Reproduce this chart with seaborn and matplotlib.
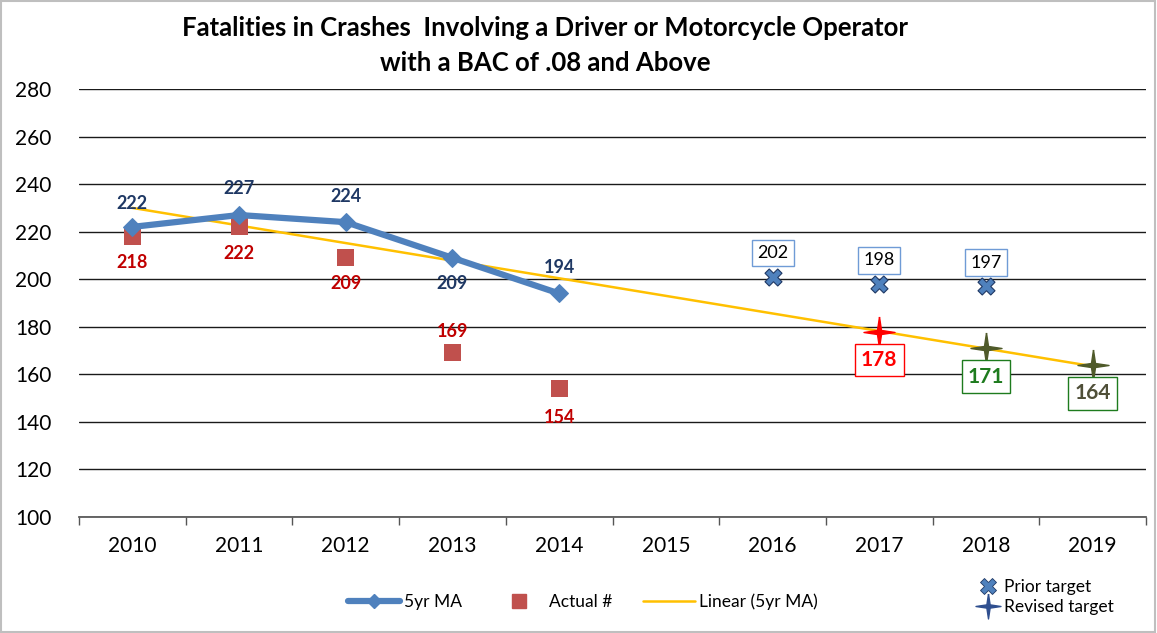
import numpy as np
import pandas as pd
import matplotlib
matplotlib.use("Agg")
import matplotlib.pyplot as plt
import seaborn as sns
from matplotlib.lines import Line2D
from matplotlib.patches import Rectangle

years = [2010, 2011, 2012, 2013, 2014, 2015, 2016, 2017, 2018, 2019]
ma_years = [2010, 2011, 2012, 2013, 2014]
ma_values = [222, 227, 224, 209, 194]
actual_values = [218, 222, 209, 169, 154]
prior_years = [2016, 2017, 2018]
prior_values = [201, 198, 197]
prior_labels = ["202", "198", "197"]
revised_years = [2017, 2018, 2019]
revised_values = [178, 171, 164]
yticks = [100, 120, 140, 160, 180, 200, 220, 240, 260, 280]

sns.set_theme(style="white")
plt.rcParams['font.family'] = ['Lato', 'DejaVu Sans']
plt.rcParams['text.color'] = 'black'
plt.rcParams['xtick.color'] = 'black'
plt.rcParams['ytick.color'] = 'black'

fig = plt.figure(figsize=(11.57, 6.33), dpi=100)
ax = fig.add_axes([79/1157, 1-517/633, (1146-79)/1157, (517-89)/633])

pos = {y: i for i, y in enumerate(years)}
df_ma = pd.DataFrame({"x": [pos[y] for y in ma_years], "y": ma_values})
df_act = pd.DataFrame({"x": [pos[y] for y in ma_years], "y": actual_values})

# grid
for t in yticks:
    ax.axhline(t, color="#1a1a1a", lw=1.0, zorder=0)

# trend
xs = np.array(df_ma["x"], dtype=float)
coef = np.polyfit(xs, np.array(ma_values, dtype=float), 1)
tx = np.array([0, 9])
ax.plot(tx, np.polyval(coef, tx), color="#FFC000", lw=1.8, zorder=2)

blue = "#4F81BD"
sns.lineplot(data=df_ma, x="x", y="y", ax=ax, color=blue, lw=4.5, marker="D",
             markersize=9, markeredgecolor=blue, zorder=4, legend=False)
sns.scatterplot(data=df_act, x="x", y="y", ax=ax, color="#C0504D", marker="s",
                s=150, edgecolor="none", zorder=3, legend=False)

star = [(0, 1), (0.13, 0.13), (1, 0), (0.13, -0.13), (0, -1), (-0.13, -0.13), (-1, 0), (-0.13, 0.13), (0, 1)]
df_prior = pd.DataFrame({"x": [pos[y] for y in prior_years], "y": prior_values})
sns.scatterplot(data=df_prior, x="x", y="y", ax=ax, color=blue, marker="X",
                s=150, edgecolor="#1F3864", linewidth=0.8, zorder=5, legend=False)
rev_colors = ["#FF0000", "#4F5A2A", "#4F5A2A"]
for yr, v, c in zip(revised_years, revised_values, rev_colors):
    ax.scatter([pos[yr]], [v], marker=star, s=500, color=c, zorder=5)

# labels
navy = "#1F3864"
red = "#C00000"
ma_off = [10, 11, 11, -11, 11]
for i, (v, o) in enumerate(zip(ma_values, ma_off)):
    ax.text(i, v + o, str(v), ha="center", va="center", color=navy,
            fontsize=13, fontweight="bold")
act_off = [-11, -11, -11, 9, -12]
for i, (v, o) in enumerate(zip(actual_values, act_off)):
    ax.text(i, v + o, str(v), ha="center", va="center", color=red,
            fontsize=13, fontweight="bold")
for yr, v, lab in zip(prior_years, prior_values, prior_labels):
    ax.text(pos[yr], v + 10, lab, ha="center", va="center", color="black",
            fontsize=13, bbox=dict(boxstyle="square,pad=0.3", fc="white", ec="#6F9BD6", lw=1.0),
            zorder=6)
rev_txt_colors = ["#FF0000", "#1E7B1E", "#4F4F38"]
rev_box_colors = ["#FF0000", "#1E7B1E", "#1E7B1E"]
for yr, v, tc, bc in zip(revised_years, revised_values, rev_txt_colors, rev_box_colors):
    ax.text(pos[yr], v - 12, str(v), ha="center", va="center", color=tc,
            fontsize=15, fontweight="bold",
            bbox=dict(boxstyle="square,pad=0.3", fc="white", ec=bc, lw=1.0), zorder=6)

ax.set_xlim(-0.5, 9.5)
ax.set_ylim(100, 280)
ax.set_yticks(yticks)
ax.set_yticklabels([str(t) for t in yticks], fontsize=15)
ax.set_xticks(range(10))
ax.set_xticklabels([str(y) for y in years], fontsize=15)
ax.set_xticks(np.arange(-0.5, 10, 1), minor=True)
ax.tick_params(axis="x", which="major", length=0, pad=14)
ax.tick_params(axis="x", which="minor", length=6, width=1, color="#555555", direction="out", bottom=True)
ax.tick_params(axis="y", length=0, pad=20)
for s in ["top", "right", "left"]:
    ax.spines[s].set_visible(False)
ax.spines["bottom"].set_color("#555555")
ax.set_xlabel("")
ax.set_ylabel("")

fig.text(545/1157, 1-28/633, "Fatalities in Crashes  Involving a Driver or Motorcycle Operator",
         ha="center", va="center", fontsize=18.5, fontweight="bold")
fig.text(545/1157, 1-63/633, "with a BAC of .08 and Above",
         ha="center", va="center", fontsize=18.5, fontweight="bold")

h1 = [Line2D([], [], color=blue, lw=4.5, marker="D", markersize=7),
      Line2D([], [], color="#C0504D", lw=0, marker="s", markersize=10),
      Line2D([], [], color="#FFC000", lw=1.8)]
leg1 = fig.legend(h1, ["5yr MA", "Actual #", "Linear (5yr MA)"], loc="center",
                  bbox_to_anchor=(583/1157, 1-602/633), ncol=3, frameon=False,
                  fontsize=12.5, handlelength=3, handletextpad=0.2, columnspacing=1.8)
h2 = [Line2D([], [], color=blue, lw=0, marker="X", markersize=11, markeredgecolor="#1F3864", markeredgewidth=0.6),
      Line2D([], [], color="#2F4F8F", lw=0, marker=star, markersize=18)]
leg2 = fig.legend(h2, ["Prior target", "Revised target"], loc="center left",
                  bbox_to_anchor=(962/1157, 1-597/633), ncol=1, frameon=False,
                  fontsize=12.5, handlelength=1.2, handletextpad=0.3, labelspacing=0.25)

fig.add_artist(Rectangle((0.001, 0.002), 0.997, 0.996, transform=fig.transFigure,
                         fill=False, ec="#BFBFBF", lw=1.5))

fig.savefig("out.png", dpi=100)
